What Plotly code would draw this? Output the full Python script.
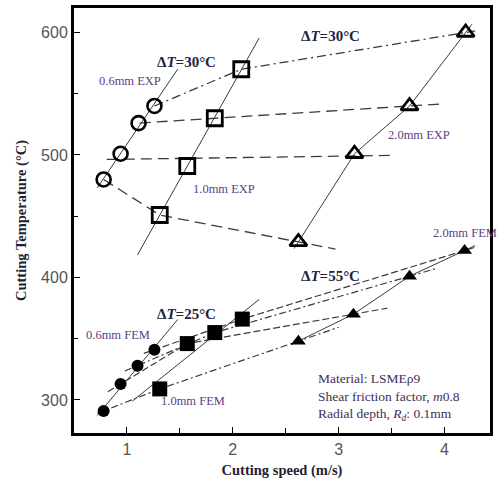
import plotly.graph_objects as go

# ---- data (cutting speed m/s, cutting temperature °C) ----
speed_06_exp = [0.78, 0.94, 1.11, 1.26]
temp_06_exp = [480, 501, 526, 540]
speed_10_exp = [1.31, 1.57, 1.83, 2.08]
temp_10_exp = [451, 491, 530, 570]
speed_20_exp = [2.62, 3.15, 3.67, 4.20]
temp_20_exp = [429, 501, 540, 600]

speed_06_fem = [0.78, 0.94, 1.10, 1.26]
temp_06_fem = [291, 313, 328, 341]
speed_10_fem = [1.31, 1.57, 1.83, 2.09]
temp_10_fem = [309, 346, 355, 366]
speed_20_fem = [2.62, 3.14, 3.67, 4.19]
temp_20_fem = [348, 370, 401, 422]

x_ticks = [1, 2, 3, 4]
y_ticks = [300, 400, 500, 600]

LINE = "#3a3a3a"
SERIF = "Liberation Serif"


def extend(xs, ys, left, right):
    """extrapolate a polyline by given x amounts at both ends"""
    xs, ys = list(xs), list(ys)
    s0 = (ys[1] - ys[0]) / (xs[1] - xs[0])
    s1 = (ys[-1] - ys[-2]) / (xs[-1] - xs[-2])
    out_x = [xs[0] - left] + xs + [xs[-1] + right]
    out_y = [ys[0] - s0 * left] + ys + [ys[-1] + s1 * right]
    return out_x, out_y


def fit_line(xs, ys, x0, x1):
    n = len(xs)
    mx, my = sum(xs) / n, sum(ys) / n
    b = sum((a - mx) * (c - my) for a, c in zip(xs, ys)) / sum((a - mx) ** 2 for a in xs)
    return [x0, x1], [my + b * (x0 - mx), my + b * (x1 - mx)]


fig = go.Figure()


def add_line(x, y, dash, width=1.2, color=LINE):
    fig.add_trace(go.Scatter(x=x, y=y, mode="lines", showlegend=False, hoverinfo="skip",
                             line=dict(color=color, width=width, dash=dash)))


# ---- solid trend lines through each series ----
add_line(*fit_line(speed_06_exp, temp_06_exp, 0.72, 1.48), "solid", 1)
add_line(*fit_line(speed_10_exp, temp_10_exp, 1.10, 2.25), "solid", 1)
add_line(*extend(speed_20_exp, temp_20_exp, 0.04, 0.06), "solid", 1)
add_line(*fit_line(speed_06_fem, temp_06_fem, 0.72, 1.48), "solid", 1)
add_line(*fit_line(speed_10_fem, temp_10_fem, 1.05, 2.25), "solid", 1)
add_line(*extend(speed_20_fem, temp_20_fem, 0.07, 0.1), "solid", 1)

# ---- dashed connection lines (same index across widths) ----
EXP_DASH = "11px,6px"
# index 0: bent polyline, 1 & 2: straight fits, 3: bent dash-dot
xs0 = [speed_06_exp[0], speed_10_exp[0], speed_20_exp[0]]
ys0 = [temp_06_exp[0], temp_10_exp[0], temp_20_exp[0]]
add_line(*extend(xs0, ys0, 0.0, 0.35), EXP_DASH, 1.3)
xs1 = [speed_06_exp[1], speed_10_exp[1], speed_20_exp[1]]
ys1 = [temp_06_exp[1], temp_10_exp[1], temp_20_exp[1]]
add_line(*fit_line(xs1, ys1, 0.81, 3.5), EXP_DASH, 1.3)
xs2 = [speed_06_exp[2], speed_10_exp[2], speed_20_exp[2]]
ys2 = [temp_06_exp[2], temp_10_exp[2], temp_20_exp[2]]
add_line(*fit_line(xs2, ys2, 1.12, 3.97), EXP_DASH, 1.3)
xs3 = [speed_06_exp[3], speed_10_exp[3], speed_20_exp[3]]
ys3 = [temp_06_exp[3], temp_10_exp[3], temp_20_exp[3]]
add_line(*extend(xs3, ys3, 0.0, 0.09), "9px,4px,2px,4px", 1.3)

fem_ext = [(0.06, 0.38), (0.12, 0.32), (0.12, 0.26), (0.1, 0.12)]
fem_dash = ["7px,3px,2px,3px", "7px,3px", "7px,3px,2px,3px", "7px,3px"]
for i in range(4):
    xs = [speed_06_fem[i], speed_10_fem[i], speed_20_fem[i]]
    ys = [temp_06_fem[i], temp_10_fem[i], temp_20_fem[i]]
    add_line(*extend(xs, ys, *fem_ext[i]), fem_dash[i], 1.2)

# ---- markers ----
def add_markers(x, y, symbol, size, lw=0):
    fig.add_trace(go.Scatter(x=x, y=y, mode="markers", showlegend=False,
                             marker=dict(symbol=symbol, size=size, color="black",
                                         line=dict(color="black", width=lw))))


add_markers(speed_06_exp, temp_06_exp, "circle-open", 14, 2.6)
add_markers(speed_10_exp, temp_10_exp, "square-open", 15, 2.8)
add_markers(speed_20_exp, temp_20_exp, "triangle-up-open", 15, 2.8)
add_markers(speed_06_fem, temp_06_fem, "circle", 12)
add_markers(speed_10_fem, temp_10_fem, "square", 15)
add_markers(speed_20_fem, temp_20_fem, "triangle-up", 13)

# ---- text labels ----
DT_COLOR = "#23233f"
MM_COLOR = "#5a3f82"
labels = [
    (1.56, 576, "<b>Δ<i>T</i>=30°C</b>", DT_COLOR, 15),
    (2.92, 597, "<b>Δ<i>T</i>=30°C</b>", DT_COLOR, 15),
    (1.56, 370, "<b>Δ<i>T</i>=25°C</b>", DT_COLOR, 15),
    (2.92, 401, "<b>Δ<i>T</i>=55°C</b>", DT_COLOR, 15),
    (1.03, 560, "0.6mm EXP", MM_COLOR, 12.5),
    (1.92, 472, "1.0mm EXP", MM_COLOR, 12.5),
    (3.76, 516, "2.0mm EXP", MM_COLOR, 12.5),
    (0.92, 353, "0.6mm FEM", MM_COLOR, 12.5),
    (1.62, 299, "1.0mm FEM", MM_COLOR, 12.5),
    (4.19, 436, "2.0mm FEM", MM_COLOR, 12.5),
]
for x, y, t, c, s in labels:
    fig.add_annotation(x=x, y=y, text=t, showarrow=False, xref="x", yref="y",
                       font=dict(family=SERIF, size=s, color=c))

fig.add_annotation(x=2.79, y=302.5, xref="x", yref="y", xanchor="left", yanchor="middle",
                   align="left", showarrow=False,
                   text="Material: LSMEρ9<br>Shear friction factor, <i>m</i>0.8<br>Radial depth, <i>R<sub>d</sub></i>: 0.1mm",
                   font=dict(family=SERIF, size=13.5, color="#3d2f58"))

axis_common = dict(showline=True, linewidth=3, linecolor="black", mirror=True,
                   ticks="inside", ticklen=6, tickwidth=1.2, tickcolor="black",
                   showgrid=False, zeroline=False,
                   tickfont=dict(family="Liberation Sans", size=16, color="#555555"))

fig.update_xaxes(range=[0.5, 4.43], tickvals=x_ticks,
                 minor=dict(dtick=0.5, ticks="inside", ticklen=5, tickcolor="black"),
                 title=dict(text="<b>Cutting speed (m/s)</b>", standoff=8,
                            font=dict(family=SERIF, size=14.5, color="#1f1f33")),
                 **axis_common)
fig.update_yaxes(range=[273, 620], tickvals=y_ticks,
                 minor=dict(dtick=50, ticks="inside", ticklen=4, tickcolor="black"),
                 title=dict(text="<b>Cutting Temperature (°C)</b>", standoff=12,
                            font=dict(family=SERIF, size=14.5, color="#1f1f33")),
                 **axis_common)

fig.update_layout(width=498, height=486, margin=dict(l=74, r=5, t=8, b=53),
                  plot_bgcolor="white", paper_bgcolor="white")

fig.write_html("out.html")
